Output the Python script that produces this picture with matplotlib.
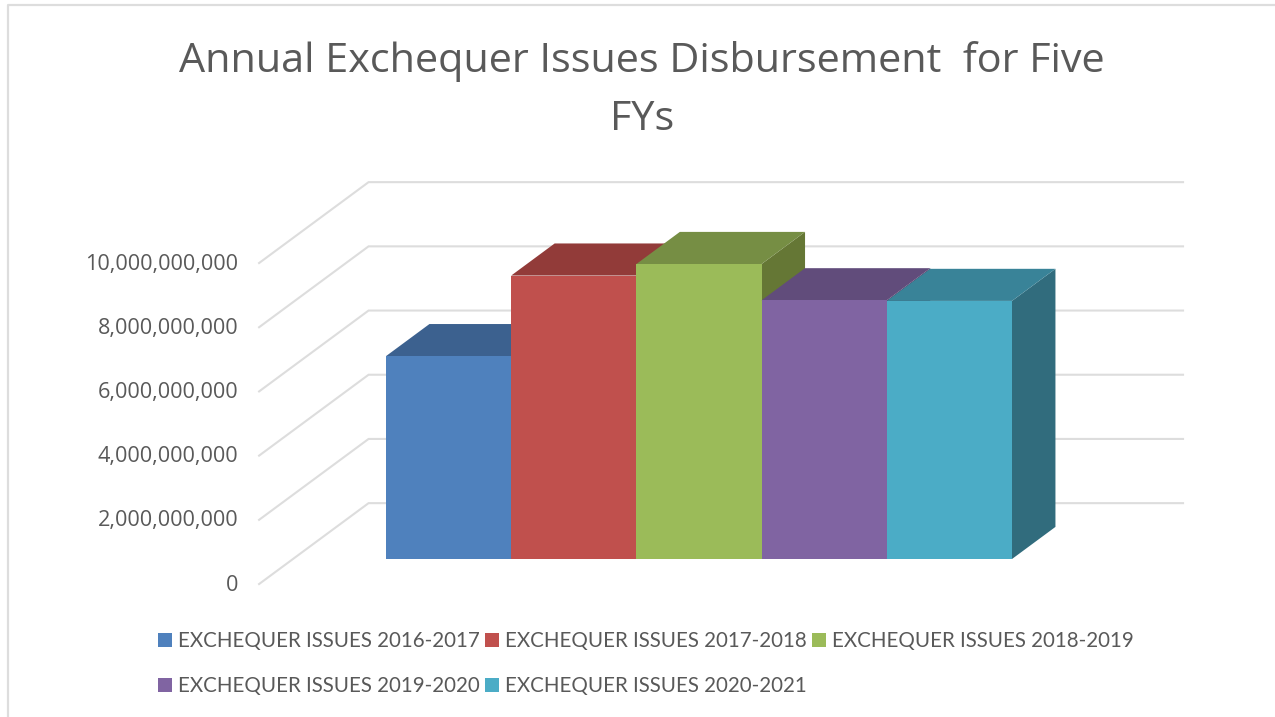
import numpy as np
import matplotlib
matplotlib.use("Agg")
import matplotlib.pyplot as plt
from matplotlib.patches import Patch, Polygon

figName = "out.png"

# values
seriesNames = ["EXCHEQUER ISSUES 2016-2017", "EXCHEQUER ISSUES 2017-2018", "EXCHEQUER ISSUES 2018-2019",
               "EXCHEQUER ISSUES 2019-2020", "EXCHEQUER ISSUES 2020-2021"]
values = [6.32e9, 8.83e9, 9.19e9, 8.06e9, 8.04e9]
frontCols = ["#4F81BD", "#C0504D", "#9BBB59", "#8064A2", "#4BACC6"]
topCols = ["#3C618F", "#923B39", "#768E44", "#614C7B", "#398398"]
sideCols = ["#33547B", "#7D3331", "#657735", "#534269", "#316C7D"]
yTicks = [0, 2e9, 4e9, 6e9, 8e9, 10e9]

TXT = "#595959"
GRID = "#DDDDDD"

# oblique projection, one unit of depth = depth of a bar
dX = 0.347
dY = 1.0e9
depthFront = -0.78
depthBack = 1.74
wallL = -0.743
wallR = 6.366


def proj(x, v, d):
	return (x + d*dX, v + d*dY)


fig = plt.figure(figsize=(12.75, 7.17), dpi=100)
ax = fig.add_axes([0, 0, 1, 1])
ax.set_xlim(-386/125.2, (1275 - 386)/125.2)
ax.set_ylim(-(717 - 559)/32.1*1e9, 559/32.1*1e9)
ax.axis("off")

# picture frame
ax.plot([0.0059, 0.0059, 1], [0, 0.993, 0.993], transform=ax.transAxes, color=GRID, lw=1.6, clip_on=False)

# walls
for v in yTicks:
	pts = [proj(wallL, v, depthFront), proj(wallL, v, depthBack), proj(wallR - depthBack*dX, v, depthBack)]
	ax.plot(*zip(*pts), color=GRID, lw=1.5, solid_joinstyle="miter", zorder=1)
	lx, ly = proj(wallL, v, depthFront)
	ax.text(lx - 21/125.2, ly - 1/32.1*1e9, f"{v:,.0f}", ha="right", va="center", color=TXT,
		family="Open Sans", fontsize=15.6, zorder=2)

# bars, left to right so the later ones cover the earlier ones
for i, v in enumerate(values):
	x0, x1 = i, i + 1
	top = [proj(x0, v, 0), proj(x1, v, 0), proj(x1, v, 1), proj(x0, v, 1)]
	side = [proj(x1, 0, 0), proj(x1, v, 0), proj(x1, v, 1), proj(x1, 0, 1)]
	ax.add_patch(Polygon(side, fc=sideCols[i], ec="none", zorder=3 + i))
	ax.add_patch(Polygon(top, fc=topCols[i], ec="none", zorder=3 + i))
	ax.bar(x0, v, width=1, align="edge", color=frontCols[i], zorder=3 + i)

ax.text(642/1275, 1 - 61/717, "Annual Exchequer Issues Disbursement  for Five", transform=ax.transAxes,
	ha="center", va="center", color=TXT, family="Open Sans", fontsize=29.8)
ax.text(642/1275, 1 - 120/717, "FYs", transform=ax.transAxes,
	ha="center", va="center", color=TXT, family="Open Sans", fontsize=29.8)

# legend fills by column, so put the rows in that order
order = [0, 3, 1, 4, 2]
handles = [Patch(fc=frontCols[i], ec="none", label=seriesNames[i]) for i in order]
ax.legend(handles=handles, ncols=3, loc="lower left", bbox_to_anchor=(158/1275, 1 - 696/717), frameon=False,
	borderpad=0, borderaxespad=0, handlelength=0.68, handleheight=0.68, handletextpad=0.3,
	columnspacing=0.25, labelspacing=1.2, labelcolor=TXT, prop={"family": "Lato", "size": 14.8})

plt.savefig(figName, dpi=100)
